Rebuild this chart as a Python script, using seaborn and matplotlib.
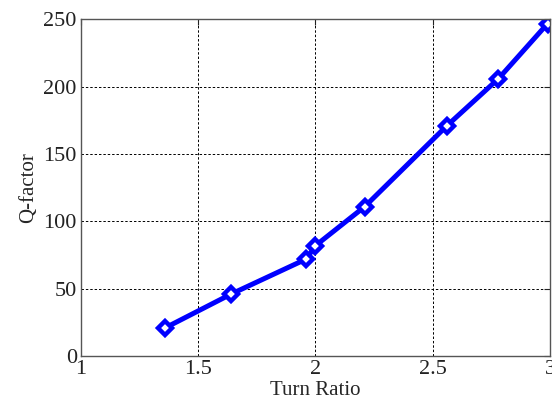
import matplotlib
matplotlib.use("Agg")
import matplotlib.pyplot as plt
import seaborn as sns
import pandas as pd

turn_ratio = [1.36, 1.64, 1.96, 2.00, 2.21, 2.56, 2.78, 2.99]
q_factor = [21, 46, 72, 82, 111, 171, 206, 247]
x_ticks = [1, 1.5, 2, 2.5, 3]
y_ticks = [0, 50, 100, 150, 200, 250]

sns.set_style("white")
plt.rcParams['font.family'] = ['Liberation Serif', 'DejaVu Serif']

df = pd.DataFrame({"Turn Ratio": turn_ratio, "Q-factor": q_factor})

fig = plt.figure(figsize=(5.52, 4.11), dpi=100)
ax = fig.add_axes([0.1467, 0.1338, 0.8497, 0.8188])
sns.lineplot(data=df, x="Turn Ratio", y="Q-factor", ax=ax, sort=False,
             color="#0000ff", linewidth=3.6, marker="D", markersize=7,
             markerfacecolor="white", markeredgecolor="#0000ff",
             markeredgewidth=3.2)
ax.set_xlim(1, 3)
ax.set_ylim(0, 250)
ax.set_xticks(x_ticks)
ax.set_xticklabels(["1", "1.5", "2", "2.5", "3"])
ax.set_yticks(y_ticks)
ax.grid(True, color="black", linestyle=(0, (2.5, 2)), linewidth=0.7)
for s in ax.spines.values():
    s.set_color("#555555")
    s.set_linewidth(1.0)
    s.set_visible(True)
ax.tick_params(direction="in", length=4, labelsize=16, colors="#222222",
               top=True, right=True, pad=3)
ax.set_xlabel("Turn Ratio", fontsize=15, labelpad=1)
ax.set_ylabel("Q-factor", fontsize=15, labelpad=4)
fig.savefig("out.png", dpi=100)
